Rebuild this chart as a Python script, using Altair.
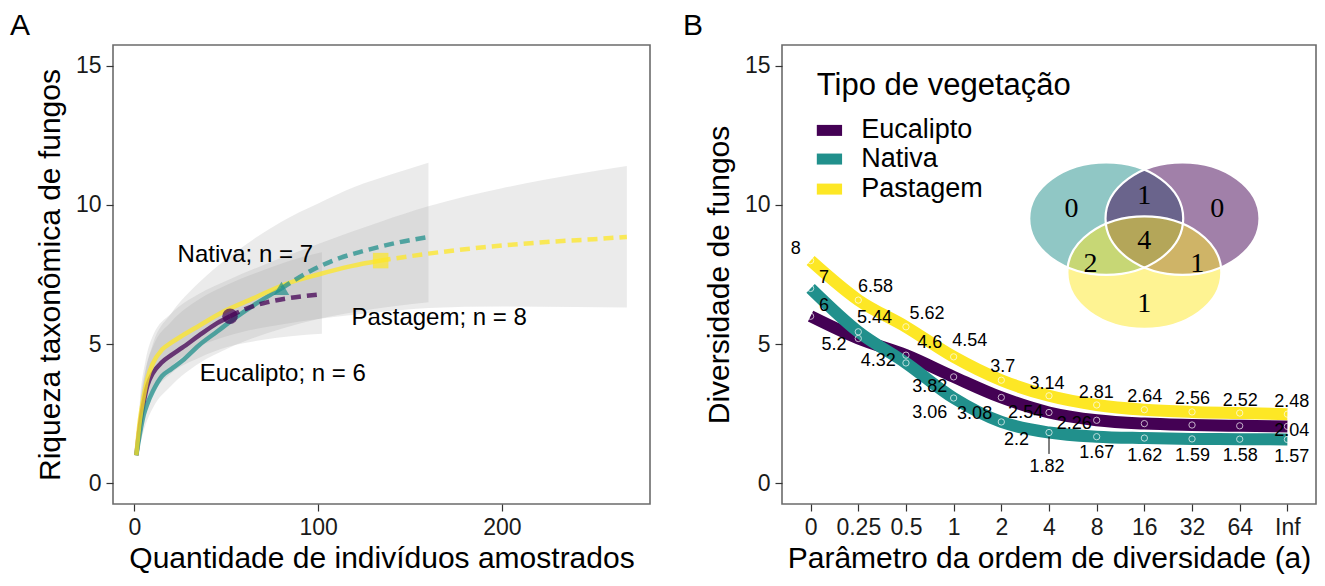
import altair as alt
import pandas as pd

FONT = "Liberation Sans"
SERIF = "Liberation Serif"
groups = ["Eucalipto", "Nativa", "Pastagem"]
colors = ["#440154", "#21908C", "#FDE725"]

# ---------------- Panel A : rarefaction / extrapolation ----------------
euc_obs_x = [1, 3, 5, 7, 10, 15, 20, 26, 35, 45, 52]
euc_obs_y = [1, 2.1, 2.9, 3.5, 3.95, 4.35, 4.6, 4.87, 5.3, 5.75, 6.0]
euc_ext_x = [52, 62, 72, 82, 92, 102]
euc_ext_y = [6.0, 6.3, 6.5, 6.63, 6.72, 6.79]

nat_obs_x = [1, 3, 5, 7, 10, 15, 20, 26, 35, 45, 55, 65, 80]
nat_obs_y = [1, 1.8, 2.45, 2.85, 3.3, 3.85, 4.1, 4.4, 4.95, 5.45, 5.95, 6.4, 7.0]
nat_ext_x = [80, 95, 110, 125, 140, 160]
nat_ext_y = [7.0, 7.6, 8.05, 8.35, 8.6, 8.85]

pas_obs_x = [1, 3, 5, 7, 10, 15, 20, 26, 35, 48, 65, 82, 100, 118, 134]
pas_obs_y = [1, 2.3, 3.1, 3.75, 4.3, 4.8, 5.05, 5.3, 5.65, 6.15, 6.65, 7.15, 7.5, 7.8, 8.0]
pas_ext_x = [134, 160, 190, 220, 250, 268]
pas_ext_y = [8.0, 8.25, 8.48, 8.65, 8.77, 8.85]

euc_band_x = [1, 3, 6, 10, 20, 35, 51, 70, 85, 102]
euc_band_lo = [1, 1.7, 2.6, 3.2, 3.95, 4.5, 4.9, 5.15, 5.28, 5.37]
euc_band_hi = [1, 2.8, 4.1, 4.9, 5.8, 6.6, 7.15, 7.65, 8.0, 8.3]

nat_band_x = [1, 3, 6, 10, 20, 35, 51, 80, 100, 120, 140, 160]
nat_band_lo = [1, 1.4, 2.1, 2.7, 3.5, 4.3, 4.85, 5.55, 5.9, 6.15, 6.35, 6.5]
nat_band_hi = [1, 2.6, 4.0, 5.0, 6.1, 7.2, 8.1, 9.4, 10.05, 10.65, 11.1, 11.52]

pas_band_x = [1, 3, 6, 10, 20, 35, 51, 80, 100, 134, 160, 200, 240, 268]
pas_band_lo = [1, 1.9, 2.9, 3.4, 4.2, 4.9, 5.3, 5.7, 5.9, 6.15, 6.3, 6.35, 6.33, 6.31]
pas_band_hi = [1, 3.0, 4.4, 5.3, 6.1, 6.8, 7.3, 8.1, 8.6, 9.4, 9.95, 10.6, 11.1, 11.4]

observed_n = [52, 80, 134]
observed_s = [6, 7, 8]

annot_text = ["Nativa; n = 7", "Pastagem; n = 8", "Eucalipto; n = 6"]
annot_x = [60.3, 165.8, 80.7]
annot_y = [8.2, 5.95, 3.94]

# ---------------- Panel B : Hill-number profiles ----------------
q_labels = ["0", "0.25", "0.5", "1", "2", "4", "8", "16", "32", "64", "Inf"]
euc_div = [6, 5.2, 4.6, 3.82, 3.08, 2.54, 2.26, 2.14, 2.09, 2.06, 2.04]
nat_div = [7, 5.44, 4.32, 3.06, 2.2, 1.82, 1.67, 1.62, 1.59, 1.58, 1.57]
pas_div = [8, 6.58, 5.62, 4.54, 3.7, 3.14, 2.81, 2.64, 2.56, 2.52, 2.48]
euc_labelled = [True, True, True, True, True, True, True, False, False, False, True]

# repelled label placement (x offset in category steps, y offset in data units)
euc_lab_dx = [0.28, -0.51, 0.5, -0.5, -0.56, -0.49, -0.47, 0, 0, 0, 0.09]
euc_lab_dy = [0.37, -0.23, 0.44, -0.36, -0.59, -0.01, -0.13, 0, 0, 0, -0.16]
nat_lab_dx = [0.28, 0.34, -0.58, -0.5, 0.32, -0.04, 0, 0.01, 0.01, 0.01, 0.09]
nat_lab_dy = [0.37, 0.5, 0.07, -0.53, -0.65, -1.24, -0.59, -0.64, -0.61, -0.6, -0.63]
pas_lab_dx = [-0.31, 0.36, 0.44, 0.34, 0.03, -0.04, -0.01, 0.01, 0.01, 0.01, 0.09]
pas_lab_dy = [0.42, 0.47, 0.46, 0.57, 0.48, 0.42, 0.43, 0.46, 0.47, 0.44, 0.45]

# Venn diagram of shared taxa
venn_sets = ["Nativa", "Eucalipto", "Pastagem"]
venn_cx = [6.2, 7.8, 7.0]
venn_cy = [9.51, 9.51, 7.57]
venn_counts = ["0", "1", "0", "4", "2", "1", "1"]
venn_count_x = [5.47, 7.0, 8.53, 7.0, 5.87, 8.11, 7.0]
venn_count_y = [9.86, 10.32, 9.86, 8.70, 7.88, 7.88, 6.44]

legend_title = "Tipo de vegetação"

# ---------------- build tables ----------------
def seg(g, xs, ys, part):
    return pd.DataFrame({"grp": g, "x": xs, "y": ys, "part": part})

lines_a = pd.concat([
    seg("Eucalipto", euc_obs_x, euc_obs_y, "obs"), seg("Eucalipto", euc_ext_x, euc_ext_y, "ext"),
    seg("Nativa", nat_obs_x, nat_obs_y, "obs"), seg("Nativa", nat_ext_x, nat_ext_y, "ext"),
    seg("Pastagem", pas_obs_x, pas_obs_y, "obs"), seg("Pastagem", pas_ext_x, pas_ext_y, "ext"),
], ignore_index=True)

bands_a = pd.concat([
    pd.DataFrame({"grp": "Eucalipto", "x": euc_band_x, "lo": euc_band_lo, "hi": euc_band_hi}),
    pd.DataFrame({"grp": "Nativa", "x": nat_band_x, "lo": nat_band_lo, "hi": nat_band_hi}),
    pd.DataFrame({"grp": "Pastagem", "x": pas_band_x, "lo": pas_band_lo, "hi": pas_band_hi}),
], ignore_index=True)

pts_a = pd.DataFrame({"grp": groups, "x": observed_n, "y": observed_s})
ann_a = pd.DataFrame({"t": annot_text, "x": annot_x, "y": annot_y})

rows = []
for g, vals, dxs, dys, show in [
    ("Eucalipto", euc_div, euc_lab_dx, euc_lab_dy, euc_labelled),
    ("Nativa", nat_div, nat_lab_dx, nat_lab_dy, [True] * 11),
    ("Pastagem", pas_div, pas_lab_dx, pas_lab_dy, [True] * 11),
]:
    for i, v in enumerate(vals):
        rows.append({"grp": g, "idx": i, "v": v, "lab": f"{v:g}" if show[i] else "",
                     "lx": i + dxs[i], "ly": v + dys[i]})
prof = pd.DataFrame(rows)
labs = prof[prof["lab"] != ""]

conn = pd.DataFrame({"idx": [5], "y1": [1.66], "y2": [1.05]})

venn = pd.DataFrame({"grp": venn_sets, "cx": venn_cx, "cy": venn_cy, "ord": [0, 1, 2]})
venn_txt = pd.DataFrame({"t": venn_counts, "x": venn_count_x, "y": venn_count_y})

leg = pd.DataFrame({"grp": groups, "x1": [0.13] * 3, "x2": [0.66] * 3,
                    "tx": [1.06] * 3, "y": [12.68, 11.65, 10.57]})
leg_title = pd.DataFrame({"t": [legend_title], "x": [0.13], "y": [14.28]})

cscale = alt.Scale(domain=groups, range=colors)
yscale = alt.Scale(domain=[-0.75, 15.75], nice=False, zero=False)

# ---------------- Panel A chart ----------------
xa_scale = alt.Scale(domain=[-11.7, 280.6], nice=False, zero=False)
XA = alt.X("x:Q", scale=xa_scale, axis=alt.Axis(values=[0, 100, 200], title="Quantidade de indivíduos amostrados",
                                                titlePadding=4))
ya_axis = alt.Axis(values=[0, 5, 10, 15], title="Riqueza taxonômica de fungos")
YA = alt.Y("y:Q", scale=yscale, axis=ya_axis)

ribbons = alt.Chart(bands_a).mark_area(color="#999999", opacity=0.2, interpolate="monotone").encode(
    x=XA, y=alt.Y("lo:Q", scale=yscale, axis=ya_axis), y2="hi:Q", detail="grp:N")
obs_line = alt.Chart(lines_a[lines_a.part == "obs"]).mark_line(
    strokeWidth=4.5, opacity=0.75, interpolate="monotone").encode(
    x=XA, y=YA, color=alt.Color("grp:N", scale=cscale, legend=None), detail="grp:N")
ext_line = alt.Chart(lines_a[lines_a.part == "ext"]).mark_line(
    strokeWidth=4.5, opacity=0.75, strokeDash=[10, 6], interpolate="monotone").encode(
    x=XA, y=YA, color=alt.Color("grp:N", scale=cscale, legend=None), detail="grp:N")
obs_pts = alt.Chart(pts_a).mark_point(filled=True, size=240, opacity=0.7).encode(
    x=XA, y=YA, color=alt.Color("grp:N", scale=cscale, legend=None),
    shape=alt.Shape("grp:N", scale=alt.Scale(domain=groups, range=["circle", "triangle-up", "square"]), legend=None))
ann = alt.Chart(ann_a).mark_text(font=FONT, fontSize=24, color="black").encode(x=XA, y=YA, text="t:N")

panelA = alt.layer(ribbons, obs_line, ext_line, obs_pts, ann).properties(
    width=537, height=459,
    title=alt.TitleParams("A", anchor="start", frame="group", dx=-103, offset=4,
                          font=FONT, fontSize=30, fontWeight="normal", color="black"))

# ---------------- Panel B chart ----------------
label_expr = "[" + ",".join(f"'{q}'" for q in q_labels) + "][datum.value]"
xb_scale = alt.Scale(domain=[-0.6, 10.6], nice=False, zero=False)
XB = alt.X("idx:Q", scale=xb_scale, axis=alt.Axis(values=list(range(11)), labelExpr=label_expr,
                                                    title="Parâmetro da ordem de diversidade (a)",
                                                    titlePadding=4))
YB = alt.Y("v:Q", scale=yscale, axis=alt.Axis(values=[0, 5, 10, 15], title="Diversidade de fungos"))

prof_lines = alt.Chart(prof).mark_line(strokeWidth=12, interpolate="monotone", strokeCap="butt").encode(
    x=XB, y=YB, color=alt.Color("grp:N", scale=cscale, legend=None), detail="grp:N")
prof_pts = alt.Chart(prof).mark_point(shape="circle", filled=False, color="white", size=40, strokeWidth=1).encode(
    x=XB, y=YB)
prof_labs = alt.Chart(labs).mark_text(font=FONT, fontSize=18, color="black").encode(
    x=alt.X("lx:Q", scale=xb_scale), y=alt.Y("ly:Q", scale=yscale), text="lab:N")
connector = alt.Chart(conn).mark_rule(color="black", strokeWidth=1).encode(
    x=alt.X("idx:Q", scale=xb_scale), y=alt.Y("y1:Q", scale=yscale), y2="y2:Q")

ellipse = "M-1,0A1,0.73,0,1,1,1,0A1,0.73,0,1,1,-1,0Z"
venn_fill = alt.Chart(venn).mark_point(shape=ellipse, filled=True, size=23716, opacity=0.5, strokeWidth=0).encode(
    x=alt.X("cx:Q", scale=xb_scale), y=alt.Y("cy:Q", scale=yscale),
    color=alt.Color("grp:N", scale=cscale, legend=None), order="ord:Q")
venn_edge = alt.Chart(venn).mark_point(shape=ellipse, filled=False, size=23716, color="white", strokeWidth=2.2,
                                       opacity=1).encode(
    x=alt.X("cx:Q", scale=xb_scale), y=alt.Y("cy:Q", scale=yscale))
venn_num = alt.Chart(venn_txt).mark_text(font=SERIF, fontSize=28, color="black").encode(
    x=alt.X("x:Q", scale=xb_scale), y=alt.Y("y:Q", scale=yscale), text="t:N")

leg_keys = alt.Chart(leg).mark_rule(strokeWidth=11, strokeCap="butt").encode(
    x=alt.X("x1:Q", scale=xb_scale), x2="x2:Q", y=alt.Y("y:Q", scale=yscale),
    color=alt.Color("grp:N", scale=cscale, legend=None))
leg_labels = alt.Chart(leg).mark_text(font=FONT, fontSize=27, color="black", align="left").encode(
    x=alt.X("tx:Q", scale=xb_scale), y=alt.Y("y:Q", scale=yscale), text="grp:N")
leg_head = alt.Chart(leg_title).mark_text(font=FONT, fontSize=31, color="black", align="left").encode(
    x=alt.X("x:Q", scale=xb_scale), y=alt.Y("y:Q", scale=yscale), text="t:N")

panelB = alt.layer(prof_lines, prof_pts, prof_labs, connector, venn_fill, venn_edge, venn_num,
                   leg_keys, leg_labels, leg_head).properties(
    width=534, height=459,
    title=alt.TitleParams("B", anchor="start", frame="group", dx=-99, offset=4,
                          font=FONT, fontSize=30, fontWeight="normal", color="black"))

chart = alt.hconcat(panelA, panelB, spacing=132, bounds="flush").resolve_scale(
    x="independent", y="independent").properties(
    padding={"left": 1, "top": 2, "right": 0, "bottom": 0}
).configure_view(stroke="#6b6b6b", strokeWidth=1.6).configure_axis(
    grid=False, domain=False, tickColor="#333333", tickWidth=1.2, tickSize=7,
    labelFont=FONT, labelFontSize=23, labelColor="#1a1a1a", labelPadding=5,
    titleFont=FONT, titleFontSize=30, titleFontWeight="normal", titleColor="black"
).configure_axisY(titlePadding=10)

chart.save("out.html", embed_options={"renderer": "svg", "actions": False})
